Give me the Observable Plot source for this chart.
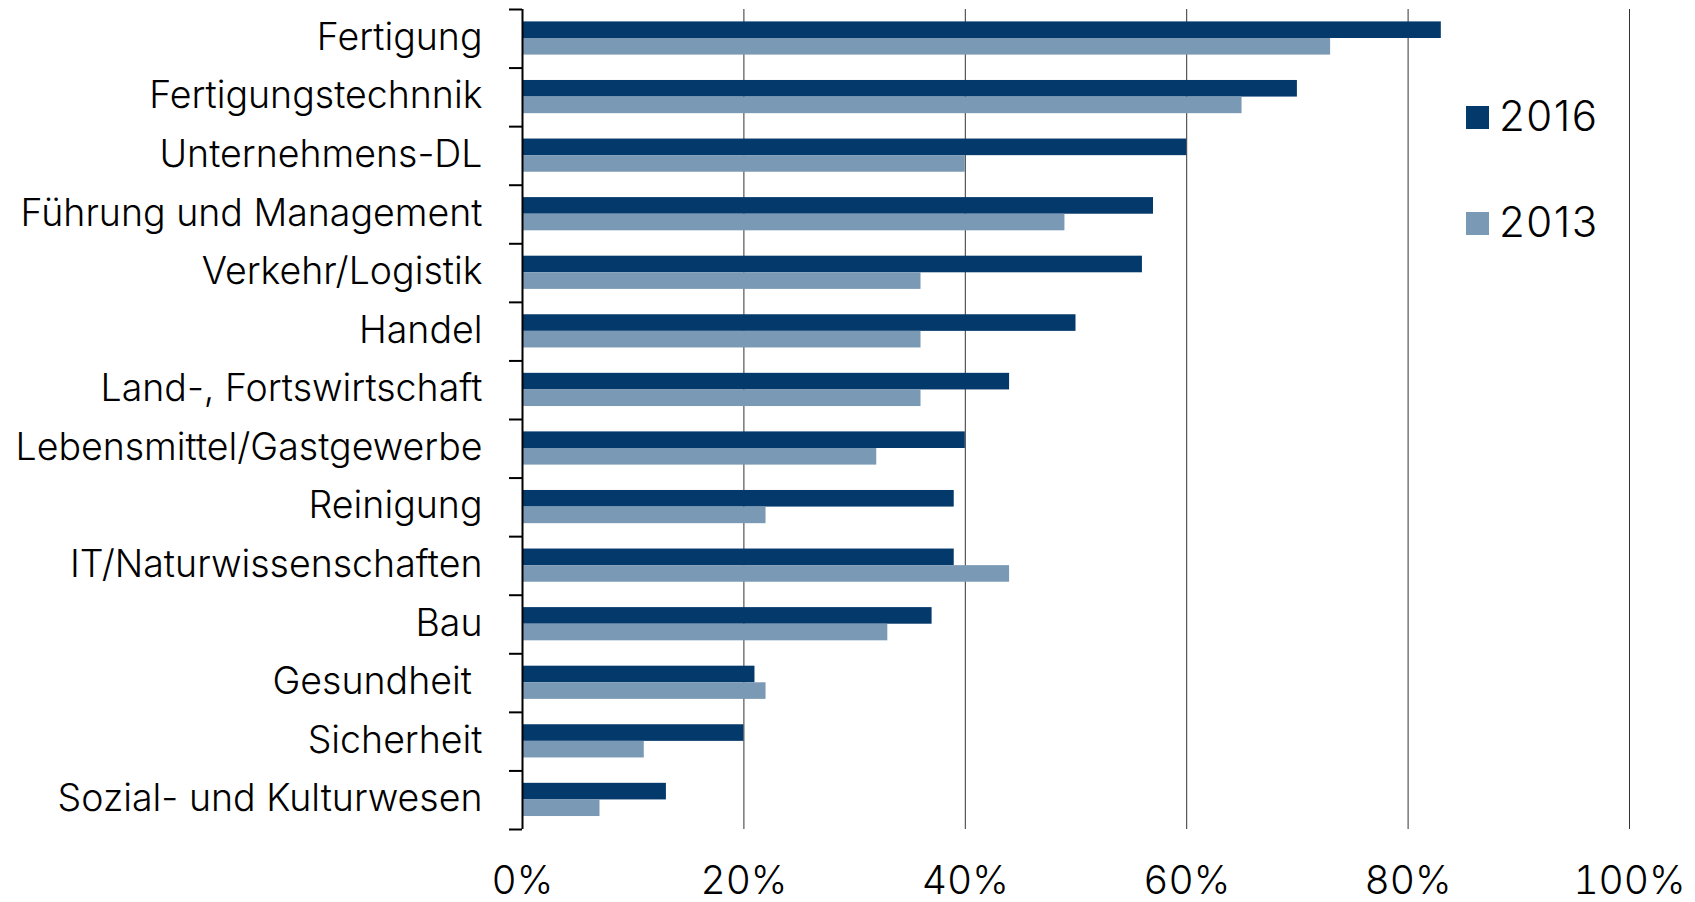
<!DOCTYPE html>
<html>
<head>
<meta charset="utf-8">
<script src="https://cdn.jsdelivr.net/npm/d3@7"></script>
<script src="https://cdn.jsdelivr.net/npm/@observablehq/plot@0.6"></script>
<style>
  html, body { margin: 0; padding: 0; background: #fff; }
  #wrap { position: relative; width: 1695px; height: 902px; font-family: Inter, "Liberation Sans", Arial, sans-serif; font-weight: 300; background: #fff; }
  .leg { position: absolute; display: flex; align-items: center; height: 40px; font-size: 42px; letter-spacing: 1.5px; color: #000; }
  .sw { width: 23px; height: 23px; margin-right: 10px; }
</style>
</head>
<body>
<div id="wrap"></div>
<script>
const categories = [
  "Fertigung", "Fertigungstechnnik", "Unternehmens-DL", "Führung und Management",
  "Verkehr/Logistik", "Handel", "Land-, Fortswirtschaft", "Lebensmittel/Gastgewerbe",
  "Reinigung", "IT/Naturwissenschaften", "Bau", "Gesundheit ", "Sicherheit",
  "Sozial- und Kulturwesen"
];
const values2016 = [83, 70, 60, 57, 56, 50, 44, 40, 39, 39, 37, 21, 20, 13];
const values2013 = [73, 65, 40, 49, 36, 36, 36, 32, 22, 44, 33, 22, 11, 7];
const seriesNames = ["2016", "2013"];
const seriesColors = ["#03396b", "#7a99b5"];
const xTicks = [0, 20, 40, 60, 80, 100];

const W = 1695, H = 902;
const mt = 9, mb = 73, ml = 522, mr = 66;
const band = (H - mt - mb) / categories.length;
const groupOffset = 12.4, barH = 16.6;

const data = categories.flatMap((c, i) => [
  {category: c, series: seriesNames[0], value: values2016[i]},
  {category: c, series: seriesNames[1], value: values2013[i]}
]);

const font = "Inter, \"Liberation Sans\", Arial, sans-serif";

const chart = Plot.plot({
  width: W, height: H,
  marginTop: mt, marginBottom: mb, marginLeft: ml, marginRight: mr,
  style: {fontFamily: font, fontWeight: 300, color: "#000", background: "#fff"},
  x: {domain: [0, 100]},
  y: {domain: categories, padding: 0, round: false},
  marks: [
    Plot.gridX(xTicks.filter(d => d > 0), {stroke: "#333", strokeOpacity: 1, strokeWidth: 1}),
    Plot.barX(data.filter(d => d.series === seriesNames[0]), {
      x: "value", y: "category", fill: seriesColors[0],
      insetTop: groupOffset, insetBottom: band - groupOffset - barH
    }),
    Plot.barX(data.filter(d => d.series === seriesNames[1]), {
      x: "value", y: "category", fill: seriesColors[1],
      insetTop: groupOffset + barH, insetBottom: band - groupOffset - 2 * barH
    }),
    Plot.ruleX([0], {stroke: "#000", strokeWidth: 2}),
    Plot.axisY({tickSize: 0, tickPadding: 40, fontSize: 37.5, dy: -1, label: null,
      tickFormat: d => d.replace(/ $/, "\u00a0")}),
    Plot.axisY(categories, {tickSize: 13, fill: "none", strokeWidth: 2, dy: -band / 2, label: null}),
    Plot.axisY(categories.slice(-1), {tickSize: 13, fill: "none", strokeWidth: 2, dy: band / 2, label: null}),
    Plot.axisX(xTicks, {tickSize: 0, tickPadding: 37, fontSize: 39, label: null, tickFormat: d => d + "%"})
  ]
});

const wrap = document.getElementById("wrap");
wrap.appendChild(chart);

const legTops = [95, 201];
seriesNames.forEach((s, i) => {
  const row = document.createElement("div");
  row.className = "leg";
  row.style.left = "1466px";
  row.style.top = legTops[i] + "px";
  const sw = document.createElement("div");
  sw.className = "sw";
  sw.style.background = seriesColors[i];
  sw.style.marginTop = "4px";
  const t = document.createElement("span");
  t.textContent = s;
  row.appendChild(sw);
  row.appendChild(t);
  wrap.appendChild(row);
});
</script>
</body>
</html>
